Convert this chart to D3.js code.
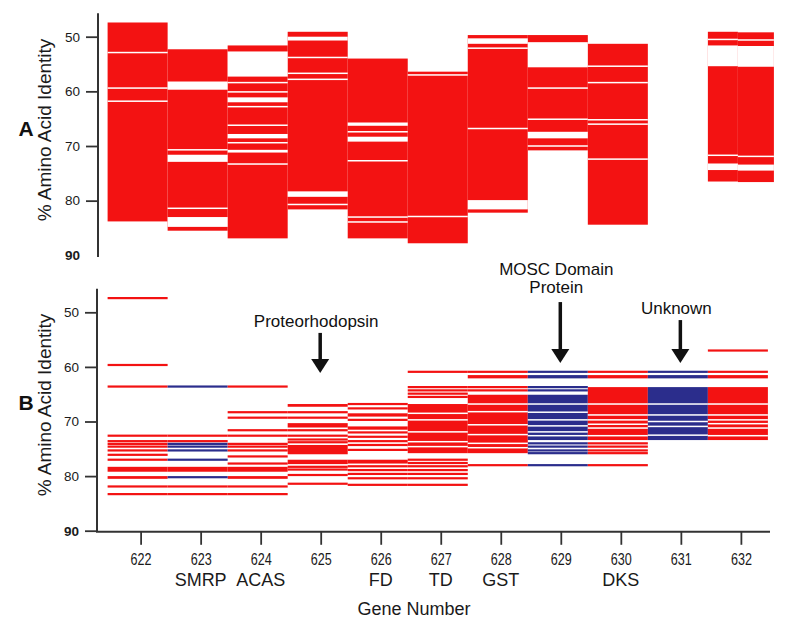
<!DOCTYPE html>
<html>
<head>
<meta charset="utf-8">
<script src="https://cdn.jsdelivr.net/npm/d3@7"></script>
<style>
  html, body { margin: 0; padding: 0; background: #fff; }
  svg { display: block; font-family: "Liberation Sans", Arial, sans-serif; }
</style>
</head>
<body>
<svg id="chart" width="785" height="637"></svg>
<script>
// ---------------- DATA ----------------
const genes = [622, 623, 624, 625, 626, 627, 628, 629, 630, 631, 632];
const geneNames = ["", "SMRP", "ACAS", "", "FD", "TD", "GST", "", "DKS", "", ""];
const yTicks = [50, 60, 70, 80, 90];

// Panel A: columns (632 is split in two halves)
const colsA = ["622", "623", "624", "625", "626", "627", "628", "629", "630", "632a", "632b"];
// solid red ranges [column, from %, to %]
const barsA = [
  ["622", 47.4, 83.8], ["623", 52.3, 85.5], ["624", 51.6, 86.9], ["625", 49.1, 81.6],
  ["626", 54.0, 86.9], ["627", 56.4, 87.8], ["628", 49.7, 82.2], ["629", 49.7, 70.8],
  ["630", 51.3, 84.4], ["632a", 49.1, 76.5], ["632b", 49.2, 76.6]
];
// white gaps [column, from %, to %] (equal values = thin line)
const gapsA = [
  ["622", 52.9, 52.9], ["622", 59.4, 59.4], ["622", 61.8, 61.8],
  ["623", 58.2, 59.7], ["623", 70.7, 70.7], ["623", 71.6, 72.9], ["623", 81.4, 81.4], ["623", 83.0, 84.8],
  ["624", 52.7, 57.3], ["624", 58.4, 58.4], ["624", 60.1, 60.1], ["624", 61.1, 62.0], ["624", 62.8, 62.8],
  ["624", 66.2, 66.2], ["624", 67.8, 68.6], ["624", 69.4, 69.4], ["624", 70.7, 71.2], ["624", 73.3, 73.3],
  ["625", 50.0, 50.7], ["625", 53.8, 53.8], ["625", 56.7, 56.7], ["625", 57.8, 57.8], ["625", 78.3, 79.3], ["625", 80.7, 80.7],
  ["626", 65.7, 66.3], ["626", 67.4, 67.4], ["626", 68.3, 69.2], ["626", 72.7, 72.7], ["626", 83.0, 83.0], ["626", 83.9, 83.9],
  ["627", 57.0, 57.0], ["627", 82.9, 82.9],
  ["628", 50.3, 51.3], ["628", 52.1, 52.1], ["628", 66.8, 66.8], ["628", 79.9, 81.6],
  ["629", 51.0, 55.6], ["629", 59.4, 59.4], ["629", 65.1, 65.1], ["629", 67.4, 68.6], ["629", 70.0, 70.0],
  ["630", 55.4, 55.4], ["630", 58.4, 58.4], ["630", 65.2, 65.2], ["630", 66.0, 66.0], ["630", 72.4, 72.4],
  ["632a", 50.4, 50.6], ["632a", 51.6, 55.4], ["632a", 71.6, 71.8], ["632a", 73.2, 74.4],
  ["632b", 50.5, 50.7], ["632b", 51.7, 55.5], ["632b", 71.8, 72.0], ["632b", 73.4, 74.5]
];

// Panel B: thin lines [gene, %, colour]  r = red, b = blue
const linesB = [
  [622, 47.4, "r"], [622, 59.65, "r"], [622, 63.6, "r"], [622, 72.6, "r"], [622, 73.6, "r"],
  [622, 74.1, "r"], [622, 74.6, "r"], [622, 75.3, "r"], [622, 76.1, "r"], [622, 77.0, "r"],
  [622, 81.9, "r"], [622, 83.3, "r"],
  [623, 63.6, "b"], [623, 72.6, "r"], [623, 73.6, "r"], [623, 74.1, "b"], [623, 74.6, "b"],
  [623, 75.3, "b"], [623, 77.0, "b"], [623, 80.2, "b"], [623, 81.9, "r"], [623, 83.3, "r"],
  [624, 63.6, "r"], [624, 68.3, "r"], [624, 69.3, "r"], [624, 71.6, "r"], [624, 72.6, "r"],
  [624, 74.1, "r"], [624, 74.6, "r"], [624, 75.3, "r"], [624, 76.4, "r"], [624, 77.7, "r"],
  [624, 81.9, "r"], [624, 83.3, "r"],
  [625, 68.3, "r"], [625, 69.3, "r"], [625, 71.6, "r"], [625, 72.6, "r"], [625, 73.3, "r"],
  [625, 73.8, "r"], [625, 78.3, "r"], [625, 78.8, "r"], [625, 79.8, "r"], [625, 81.4, "r"],
  [626, 66.8, "r"], [626, 67.6, "r"], [626, 69.7, "r"], [626, 72.0, "r"], [626, 72.8, "r"],
  [626, 73.6, "r"], [626, 74.3, "r"], [626, 75.2, "r"], [626, 78.2, "r"], [626, 78.9, "r"],
  [626, 79.6, "r"], [626, 80.4, "r"], [626, 81.6, "r"],
  [627, 60.9, "r"], [627, 63.7, "r"], [627, 64.3, "r"], [627, 64.9, "r"], [627, 65.5, "r"],
  [627, 77.0, "r"], [627, 77.6, "r"], [627, 78.2, "r"], [627, 78.9, "r"], [627, 79.6, "r"],
  [627, 80.4, "r"], [627, 81.6, "r"],
  [628, 60.9, "r"], [628, 63.7, "r"], [628, 64.3, "r"], [628, 78.0, "r"],
  [629, 60.9, "b"], [629, 63.7, "b"], [629, 64.3, "b"], [629, 74.0, "b"], [629, 74.6, "b"],
  [629, 75.3, "b"], [629, 75.8, "b"], [629, 78.0, "b"],
  [630, 60.9, "r"], [630, 74.0, "r"], [630, 74.6, "r"], [630, 75.3, "r"], [630, 75.8, "r"], [630, 78.0, "r"],
  [631, 60.9, "b"],
  [632, 57.0, "r"], [632, 60.9, "r"]
];
// Panel B: solid bands [gene, from %, to %, colour]
const bandsB = [
  [622, 78.3, 79.2, "r"], [622, 80.0, 80.5, "r"],
  [623, 78.3, 79.2, "r"],
  [624, 78.3, 79.2, "r"], [624, 80.0, 80.5, "r"],
  [625, 66.8, 67.3, "r"], [625, 70.3, 71.1, "r"], [625, 74.3, 76.0, "r"], [625, 77.0, 77.8, "r"],
  [626, 68.5, 69.1, "r"], [626, 70.9, 71.5, "r"], [626, 77.0, 77.7, "r"],
  [627, 66.8, 75.8, "r"],
  [628, 61.5, 62.1, "r"], [628, 65.1, 75.8, "r"],
  [629, 61.5, 62.1, "b"], [629, 65.1, 73.4, "b"],
  [630, 61.5, 62.1, "r"], [630, 63.7, 73.4, "r"],
  [631, 61.5, 62.1, "b"], [631, 63.7, 73.4, "b"],
  [632, 61.5, 62.1, "r"], [632, 63.7, 73.4, "r"]
];
// Panel B: white lines inside bands [gene, %]
const gapsB = [
  [627, 68.5], [627, 69.7], [627, 71.9], [627, 73.7], [627, 74.6],
  [628, 66.8], [628, 68.2], [628, 70.6], [628, 72.4], [628, 74.0], [628, 74.8],
  [629, 66.8], [629, 68.3], [629, 69.7], [629, 70.8], [629, 71.9], [629, 72.6],
  [630, 66.8], [630, 68.8], [630, 69.7], [630, 70.5], [630, 71.2], [630, 72.6],
  [631, 66.8], [631, 68.8], [631, 70.0], [631, 70.9], [631, 72.5],
  [632, 66.8], [632, 68.8], [632, 69.7], [632, 70.4], [632, 71.2], [632, 72.6]
];

// Annotations in panel B: [label lines, gene, arrow tip %]
const notesB = [
  [["Proteorhodopsin"], 625, 61.1],
  [["MOSC Domain", "Protein"], 629, 59.3],
  [["Unknown"], 631, 59.3]
];

// ---------------- DRAW ----------------
const RED = "#f31212", BLUE = "#2b2d8c", AXIS = "#333", INK = "#1a1a1a";
const svg = d3.select("#chart");

const x = d3.scaleLinear().domain([621.5, 632.5]).range([107.6, 767.9]);
const yA = d3.scaleLinear().domain([50, 90]).range([36.7, 255.3]);
const yB = d3.scaleLinear().domain([50, 90]).range([312.3, 530.7]);

function colExtent(c) {
  if (c === "632a") return [x(631.5), x(632)];
  if (c === "632b") return [x(632), x(632.6)];
  const g = +c;
  return [x(g - 0.5), x(g + 0.5)];
}
function span(y, a, b, thin) {
  const y0 = y(a), y1 = y(b);
  const h = Math.max(y1 - y0, thin);
  const mid = (y0 + y1) / 2;
  return [mid - h / 2, h];
}

// Panel A bars
const gA = svg.append("g");
gA.selectAll("rect.bar").data(barsA).join("rect")
  .attr("x", d => colExtent(d[0])[0])
  .attr("width", d => colExtent(d[0])[1] - colExtent(d[0])[0])
  .attr("y", d => yA(d[1]))
  .attr("height", d => yA(d[2]) - yA(d[1]))
  .attr("fill", RED);
gA.selectAll("rect.gap").data(gapsA).join("rect")
  .attr("x", d => colExtent(d[0])[0])
  .attr("width", d => colExtent(d[0])[1] - colExtent(d[0])[0])
  .attr("y", d => span(yA, d[1], d[2], 1.5)[0])
  .attr("height", d => span(yA, d[1], d[2], 1.5)[1])
  .attr("fill", "#fff");

// Panel B
const colour = c => c === "b" ? BLUE : RED;
const gB = svg.append("g");
gB.selectAll("rect.band").data(bandsB).join("rect")
  .attr("x", d => x(d[0] - 0.5)).attr("width", d => x(d[0] + 0.5) - x(d[0] - 0.5))
  .attr("y", d => yB(d[1])).attr("height", d => yB(d[2]) - yB(d[1]))
  .attr("fill", d => colour(d[3]));
gB.selectAll("rect.line").data(linesB).join("rect")
  .attr("x", d => x(d[0] - 0.5)).attr("width", d => x(d[0] + 0.5) - x(d[0] - 0.5))
  .attr("y", d => yB(d[1]) - 1.1).attr("height", 2.2)
  .attr("fill", d => colour(d[2]));
gB.selectAll("rect.gap").data(gapsB).join("rect")
  .attr("x", d => x(d[0] - 0.5)).attr("width", d => x(d[0] + 0.5) - x(d[0] - 0.5))
  .attr("y", d => yB(d[1]) - 0.75).attr("height", 1.5)
  .attr("fill", "#fff");

// Axes
function yAxis(scale, xPos, topVal, botVal, tickVals) {
  const g = svg.append("g").attr("transform", `translate(${xPos},0)`);
  g.call(d3.axisLeft(scale).tickValues(tickVals).tickSize(12).tickPadding(6).tickSizeOuter(0));
  g.attr("font-size", null).attr("font-family", null);
  g.select(".domain").remove();
  g.selectAll(".tick line").attr("stroke", AXIS).attr("stroke-width", 1.8);
  g.selectAll(".tick text")
    .style("font-size", "13.5px").style("font-family", "'Liberation Sans', Arial, sans-serif")
    .attr("fill", INK)
    .style("font-weight", d => d === 90 ? "bold" : "normal");
  g.append("line").attr("x1", 0).attr("x2", 0)
    .attr("y1", scale(topVal)).attr("y2", scale(botVal))
    .attr("stroke", AXIS).attr("stroke-width", 2);
  return g;
}
const axA = yAxis(yA, 98, 45.7, 90.3, yTicks);
axA.selectAll(".tick").filter(d => d === 90).select("line").remove();
const axB = yAxis(yB, 97, 45.7, 90.2, yTicks);

// X axis (panel B)
const xAxisY = yB(90.2);
svg.append("line").attr("x1", 96).attr("x2", 770).attr("y1", xAxisY).attr("y2", xAxisY)
  .attr("stroke", AXIS).attr("stroke-width", 2);
const gx = svg.append("g").attr("transform", `translate(3,${xAxisY})`);
gx.call(d3.axisBottom(x).tickValues(genes).tickSize(13).tickPadding(9).tickFormat(d3.format("d")));
gx.attr("font-size", null).attr("font-family", null);
gx.select(".domain").remove();
gx.selectAll(".tick line").attr("stroke", AXIS).attr("stroke-width", 1.8);
gx.selectAll(".tick text")
  .style("font-size", "16px").style("font-family", "'Liberation Sans', Arial, sans-serif")
  .attr("fill", INK)
  .attr("textLength", 21).attr("lengthAdjust", "spacingAndGlyphs");

// Gene names
svg.append("g").selectAll("text").data(genes.map((g, i) => [g, geneNames[i]]).filter(d => d[1]))
  .join("text")
  .attr("x", d => x(d[0]) + 3).attr("y", 586)
  .attr("text-anchor", "middle").style("font-size", "18px").attr("fill", INK)
  .text(d => d[1]);

svg.append("text").attr("x", 414).attr("y", 615).attr("text-anchor", "middle")
  .style("font-size", "18px").attr("fill", INK).text("Gene Number");

// Y titles and panel letters
[[yA, 130], [yB, 405]].forEach(([s, cy]) => {
  svg.append("text").attr("transform", `translate(51,${cy}) rotate(-90)`)
    .attr("text-anchor", "middle").style("font-size", "19px").attr("fill", INK)
    .text("% Amino Acid Identity");
});
svg.append("text").attr("x", 26).attr("y", 136).attr("text-anchor", "middle")
  .style("font-size", "21px").style("font-weight", "bold").attr("fill", "#111").text("A");
svg.append("text").attr("x", 26).attr("y", 410).attr("text-anchor", "middle")
  .style("font-size", "21px").style("font-weight", "bold").attr("fill", "#111").text("B");

// Annotations
const gN = svg.append("g");
notesB.forEach(([lines, gene, tip]) => {
  const ax = x(gene) + 2.5;
  const tipY = yB(tip);
  const shaftTop = tipY - (lines.length > 1 ? 61 : (gene === 625 ? 40 : 43));
  const textBase = shaftTop - (lines.length > 1 ? 9 : 6);
  lines.forEach((t, i) => {
    gN.append("text").attr("x", ax - 4).attr("y", textBase - (lines.length - 1 - i) * 18.5)
      .attr("text-anchor", "middle").style("font-size", "17px").attr("fill", "#111").text(t);
  });
  gN.append("line").attr("x1", ax).attr("x2", ax).attr("y1", shaftTop).attr("y2", tipY - 10)
    .attr("stroke", "#111").attr("stroke-width", 3.5);
  gN.append("path")
    .attr("d", `M${ax - 9},${tipY - 14} L${ax + 9},${tipY - 14} L${ax},${tipY} Z`)
    .attr("fill", "#111");
});
</script>
</body>
</html>
